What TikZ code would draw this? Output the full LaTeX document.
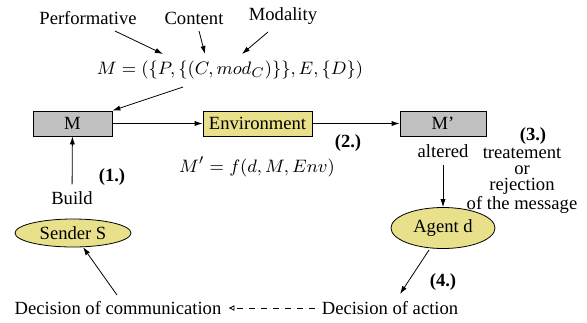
\documentclass[tikz,border=0pt]{standalone}
\usepackage{amsmath}
\usepackage{fontspec}
\setmainfont{Liberation Serif}
\usetikzlibrary{arrows.meta, shapes.geometric}
\definecolor{boxgray}{RGB}{192,192,192}
\definecolor{boxyellow}{RGB}{232,224,138}

\begin{document}
\begin{tikzpicture}[x=0.5pt, y=-0.5pt,
	every node/.style={font=\rmfamily\fontsize{9.3}{11}\selectfont},
	msgbox/.style={draw, fill=boxgray, minimum height=12.5pt, inner sep=0pt},
	envbox/.style={draw, fill=boxyellow, minimum height=12.5pt, inner sep=0pt},
	agentshape/.style={draw, ellipse, fill=boxyellow, inner sep=0pt},
	arr/.style={-{Latex[length=4pt, width=2.6pt]}, thin},
	stepnum/.style={font=\rmfamily\fontsize{9.3}{11}\selectfont\bfseries}]
	\useasboundingbox (0,0) rectangle (587,322);
	% message parts
	\node (perf) at (88,18) {Performative};
	\node (cont) at (194,18) {Content};
	\node (moda) at (283,16) {Modality};
	\node (formula) at (230,70) {$M = (\{P,\{(C,mod_C)\}\},E,\{D\})$};
	\coordinate (perfS) at (115,31);
	\coordinate (perfE) at (163,54);
	\coordinate (contS) at (199,31);
	\coordinate (contE) at (205,54);
	\coordinate (modaS) at (268,32);
	\coordinate (modaE) at (242,54);
	\coordinate (formS) at (183,87);
	\draw [arr] (perfS) -- (perfE);
	\draw [arr] (contS) -- (contE);
	\draw [arr] (modaS) -- (modaE);
	% boxes
	\node [msgbox, minimum width=39.5pt] (M) at (72.5,123.5) {M};
	\node [envbox, minimum width=54.5pt] (env) at (257.5,123.5) {Environment};
	\node [msgbox, minimum width=43pt] (Mp) at (443,123.5) {M'};
	\draw [arr] (formS) -- (M.north east);
	\draw [arr] (M) -- (env);
	\draw [arr] (env) -- (Mp);
	\node [stepnum] (two) at (348,143) {(2.)};
	\node (fmod) at (257,167) {$M' = f(d,M,Env)$};
	% receiver side
	\node (altered) at (443,151) {altered};
	\node [stepnum] (three) at (533,136) {(3.)};
	\node [align=center, font=\rmfamily\fontsize{9.3}{8}\selectfont] (treat) at (522,181)
		{treatement\\or\\rejection\\of the message};
	\node [agentshape, minimum width=52pt, minimum height=20.5pt] (agent) at (443,228) {Agent d};
	\draw [arr] (altered) -- (agent);
	\node [stepnum] (four) at (443,282) {(4.)};
	\node (action) at (390,308) {Decision of action};
	\coordinate (agentS) at (429,250);
	\coordinate (actionE) at (400,294);
	\draw [arr] (agentS) -- (actionE);
	% sender side
	\node (comm) at (118,308) {Decision of communication};
	\draw [dashed, -{Latex[length=3pt, width=3pt, open]}, thin] (action) -- (comm);
	\node [agentshape, minimum width=58pt, minimum height=14pt] (sender) at (73,233) {Sender S};
	\coordinate (commS) at (117,295);
	\draw [arr] (commS) -- (sender);
	\node (build) at (72,198) {Build};
	\node [stepnum] (one) at (112,177) {(1.)};
	\draw [arr] (build) -- (M);
\end{tikzpicture}
\end{document}
